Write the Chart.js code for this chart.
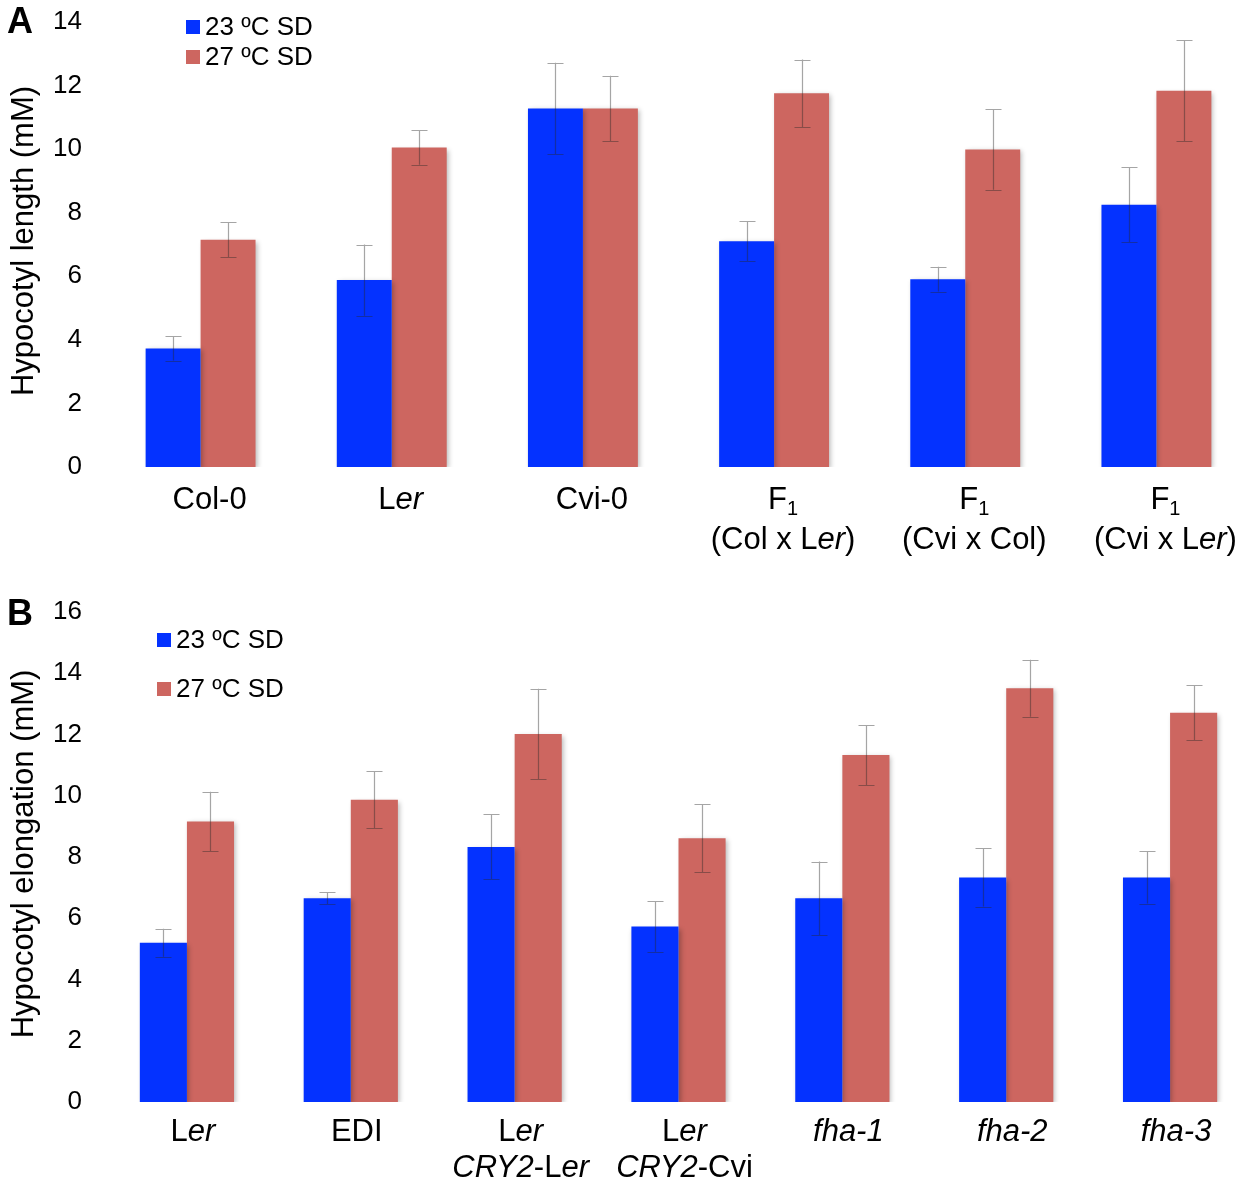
<!DOCTYPE html>
<html>
<head>
<meta charset="utf-8">
<script src="https://cdn.jsdelivr.net/npm/chart.js@4.4.1/dist/chart.umd.min.js"></script>
<style>
  html, body { margin: 0; padding: 0; background: #fff; overflow: hidden; width: 1244px; height: 1181px; }
  .panel { position: absolute; left: 0; }
</style>
</head>
<body>
<div class="panel" style="top:0px;width:1260px;height:570px"><canvas id="chartA" width="1260" height="570"></canvas></div>
<div class="panel" style="top:590px;width:1260px;height:591px"><canvas id="chartB" width="1260" height="591"></canvas></div>
<script>
// ---------- DATA ----------
// markup: *italic*, _subscript_ ; arrays = multi-line labels
const categoriesA = ['Col-0', 'L*er*', 'Cvi-0', ['F_1_', '(Col x L*er*)'], ['F_1_', '(Cvi x Col)'], ['F_1_', '(Cvi x L*er*)']];
const blueA    = [3.73, 5.88, 11.28, 7.10, 5.91, 8.25];
const redA     = [7.15, 10.05, 11.28, 11.76, 9.99, 11.84];
const blueErrA = [0.38, 1.12, 1.44, 0.63, 0.39, 1.18];
const redErrA  = [0.55, 0.54, 1.03, 1.06, 1.27, 1.58];

const categoriesB = ['L*er*', 'EDI', ['L*er*', '*CRY2*-L*er*'], ['L*er*', '*CRY2*-Cvi'], '*fha-1*', '*fha-2*', '*fha-3*'];
const blueB    = [5.20, 6.65, 8.33, 5.73, 6.65, 7.33, 7.33];
const redB     = [9.16, 9.87, 12.02, 8.61, 11.33, 13.51, 12.71];
const blueErrB = [0.46, 0.20, 1.06, 0.82, 1.20, 0.95, 0.85];
const redErrB  = [0.97, 0.93, 1.47, 1.11, 0.98, 0.93, 0.90];

const seriesNames = ['23 ºC SD', '27 ºC SD'];
const yTicksA = [0, 2, 4, 6, 8, 10, 12, 14];
const yTicksB = [0, 2, 4, 6, 8, 10, 12, 14, 16];
const titleA = 'Hypocotyl length (mM)';
const titleB = 'Hypocotyl elongation (mM)';

// ---------- STYLE ----------
const FAMILY = '"Liberation Sans", Arial, Helvetica, sans-serif';
const BLUE = '#0432FF';
const RED = '#CD6660';

function strip(s) { return s.replace(/[*_]/g, ''); }
function plainLabels(cats) { return cats.map(c => Array.isArray(c) ? c.map(strip) : strip(c)); }

function drawRich(ctx, text, cx, cy, size) {
  const parts = text.split(/(\*[^*]+\*|_[^_]+_)/).filter(s => s.length);
  const segs = parts.map(p => {
    if (p[0] === '*') return { t: p.slice(1, -1), font: `italic ${size}px ${FAMILY}`, dy: 0 };
    if (p[0] === '_') return { t: p.slice(1, -1), font: `${Math.round(size * 0.66)}px ${FAMILY}`, dy: size * 0.32 };
    return { t: p, font: `${size}px ${FAMILY}`, dy: 0 };
  });
  let w = 0;
  segs.forEach(s => { ctx.font = s.font; s.w = ctx.measureText(s.t).width; w += s.w; });
  let x = cx - w / 2;
  ctx.textAlign = 'left';
  ctx.textBaseline = 'middle';
  segs.forEach(s => { ctx.font = s.font; ctx.fillText(s.t, x, cy + s.dy); x += s.w; });
}

const decorPlugin = {
  id: 'decor',
  beforeDatasetsDraw(chart) {
    const ctx = chart.ctx;
    ctx.save();
    ctx.shadowColor = 'rgba(0,0,0,0.28)';
    ctx.shadowBlur = 5;
    ctx.shadowOffsetX = 2;
    ctx.shadowOffsetY = 2;
  },
  afterDatasetsDraw(chart) {
    const ctx = chart.ctx;
    ctx.restore();
    const ys = chart.scales.y;
    ctx.save();
    ctx.strokeStyle = 'rgba(40,40,40,0.42)';
    ctx.lineWidth = 1.2;
    chart.data.datasets.forEach((ds, di) => {
      const meta = chart.getDatasetMeta(di);
      meta.data.forEach((bar, i) => {
        const v = ds.data[i], e = ds.errors[i];
        const x = Math.round(bar.x) + 0.5;
        const yt = ys.getPixelForValue(v + e), yb = ys.getPixelForValue(v - e);
        ctx.beginPath();
        ctx.moveTo(x, yt); ctx.lineTo(x, yb);
        ctx.moveTo(x - 8, Math.round(yt) + 0.5); ctx.lineTo(x + 8, Math.round(yt) + 0.5);
        ctx.moveTo(x - 8, Math.round(yb) + 0.5); ctx.lineTo(x + 8, Math.round(yb) + 0.5);
        ctx.stroke();
      });
    });
    ctx.restore();
  },
  afterDraw(chart) {
    const ctx = chart.ctx;
    const o = chart.options.plugins.decor;
    const xs = chart.scales.x;
    const ca = chart.chartArea;
    ctx.save();
    ctx.fillStyle = '#000';
    // category labels
    o.cats.forEach((c, i) => {
      const lines = Array.isArray(c) ? c : [c];
      const cx = xs.getPixelForValue(i) + o.labelDx;
      lines.forEach((ln, k) => drawRich(ctx, ln, cx, ca.bottom + o.labelDy + k * o.lineH, o.labelSize));
    });
    // axis title
    ctx.save();
    ctx.translate(o.titleX, o.titleY);
    ctx.rotate(-Math.PI / 2);
    ctx.font = `${o.titleSize}px ${FAMILY}`;
    ctx.textAlign = 'center';
    ctx.textBaseline = 'middle';
    ctx.fillText(o.title, 0, 0);
    ctx.restore();
    // panel letter
    ctx.font = `bold 36px ${FAMILY}`;
    ctx.textAlign = 'left';
    ctx.textBaseline = 'middle';
    ctx.fillText(o.letter, o.letterX, o.letterY);
    // legend
    chart.data.datasets.forEach((ds, di) => {
      const ly = o.legY + di * o.legGap;
      ctx.fillStyle = ds.backgroundColor;
      ctx.fillRect(o.legX, ly - 7, 14, 14);
      ctx.fillStyle = '#000';
      ctx.font = `26px ${FAMILY}`;
      ctx.textAlign = 'left';
      ctx.textBaseline = 'middle';
      ctx.fillText(ds.label, o.legX + 19, ly + 1);
    });
    ctx.restore();
  }
};

function makeChart(id, cats, b, r, be, re, ticks, deco, xHeight) {
  const yMax = ticks[ticks.length - 1];
  return new Chart(document.getElementById(id), {
    type: 'bar',
    data: {
      labels: plainLabels(cats),
      datasets: [
        { label: seriesNames[0], data: b, errors: be, backgroundColor: BLUE, borderWidth: 0 },
        { label: seriesNames[1], data: r, errors: re, backgroundColor: RED, borderWidth: 0 }
      ]
    },
    options: {
      responsive: false,
      animation: false,
      devicePixelRatio: 1,
      layout: { padding: { top: 22, right: 8, bottom: 0, left: 0 } },
      datasets: { bar: { categoryPercentage: 0.575, barPercentage: 1.0 } },
      plugins: {
        legend: { display: false },
        tooltip: { enabled: false },
        decor: Object.assign({ cats: cats }, deco)
      },
      scales: {
        x: {
          grid: { display: false },
          border: { display: false },
          ticks: { display: false },
          afterFit(s) { s.height = xHeight; }
        },
        y: {
          min: 0, max: yMax,
          afterBuildTicks(s) { s.ticks = ticks.map(v => ({ value: v })); },
          grid: { display: false, drawTicks: false },
          border: { display: false },
          ticks: { color: '#000', padding: 23, font: { family: FAMILY, size: 26 } },
          afterFit(s) { s.width = 105; s.paddingTop = 0; s.paddingBottom = 0; }
        }
      }
    },
    plugins: [decorPlugin]
  });
}

makeChart('chartA', categoriesA, blueA, redA, blueErrA, redErrA, yTicksA, {
  labelDx: 9, labelDy: 33, lineH: 40, labelSize: 31,
  title: titleA, titleX: 24, titleY: 241, titleSize: 31,
  letter: 'A', letterX: 7, letterY: 23,
  legX: 186, legY: 27, legGap: 30
}, 103);

makeChart('chartB', categoriesB, blueB, redB, blueErrB, redErrB, yTicksB, {
  labelDx: 6, labelDy: 30, lineH: 36, labelSize: 31,
  title: titleB, titleX: 24, titleY: 264, titleSize: 31,
  letter: 'B', letterX: 7, letterY: 25,
  legX: 157, legY: 50, legGap: 49
}, 79);
</script>
</body>
</html>
